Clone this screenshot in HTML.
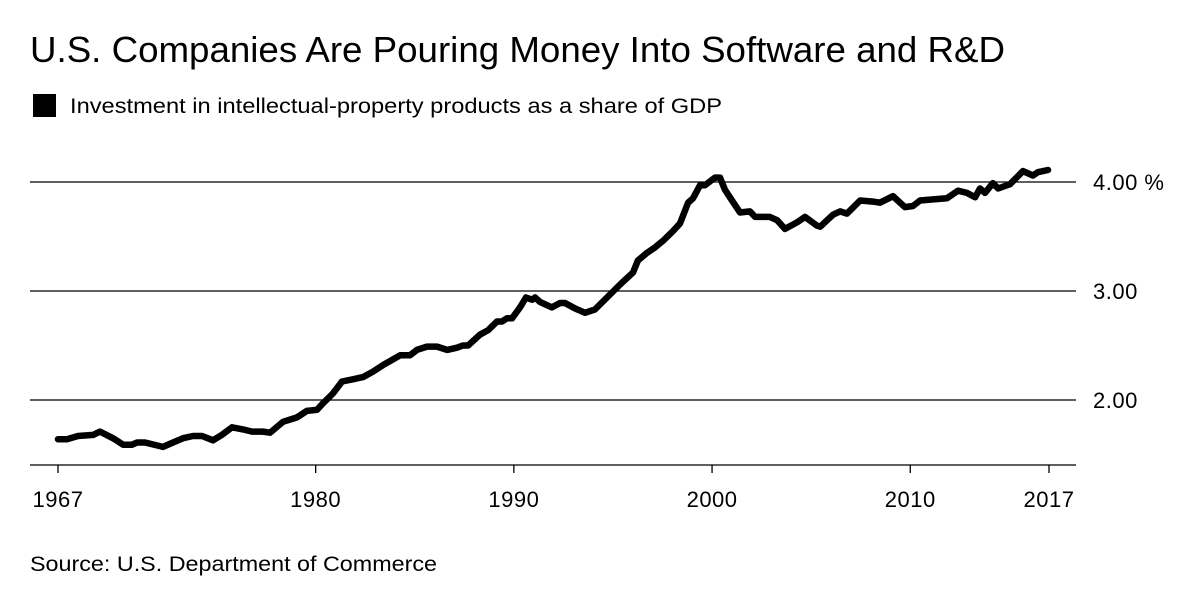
<!DOCTYPE html>
<html><head><meta charset="utf-8"><style>
body{margin:0;background:#fff;width:1200px;height:600px;overflow:hidden;font-family:"Liberation Sans",sans-serif;}
</style></head><body>
<svg width="1200" height="600" font-family="Liberation Sans, sans-serif">
<text x="30" y="62" font-size="36" textLength="975" lengthAdjust="spacingAndGlyphs" fill="#000">U.S. Companies Are Pouring Money Into Software and R&amp;D</text>
<rect x="33" y="94" width="23" height="23" fill="#000"/>
<text x="70" y="113" font-size="21" textLength="652" lengthAdjust="spacingAndGlyphs" fill="#000">Investment in intellectual-property products as a share of GDP</text>
<g id="grid"></g>
<g id="xaxis"></g>
<path id="line" fill="none" stroke="#000" stroke-width="6.5" stroke-linejoin="round" stroke-linecap="round"/>
<text x="30" y="571" font-size="21" textLength="407" lengthAdjust="spacingAndGlyphs" fill="#000">Source: U.S. Department of Commerce</text>
</svg>
<script>
const years=[1967,1967.45,1968.01,1968.77,1969.12,1969.77,1970.03,1970.28,1970.73,1970.99,1971.39,1972.3,1972.8,1973.31,1973.81,1974.27,1974.82,1975.27,1975.78,1976.33,1976.79,1977.34,1977.7,1978.35,1979.06,1979.56,1980.07,1980.37,1980.87,1981.33,1981.88,1982.39,1982.89,1983.4,1984.26,1984.76,1985.11,1985.62,1986.12,1986.63,1987.13,1987.43,1987.69,1988.29,1988.7,1989.15,1989.4,1989.65,1989.91,1990.31,1990.61,1990.92,1991.07,1991.32,1991.92,1992.33,1992.58,1993.08,1993.59,1994.09,1994.7,1995.36,1996.01,1996.26,1996.72,1997.12,1997.52,1998.03,1998.38,1998.79,1999.04,1999.39,1999.64,2000.15,2000.4,2000.65,2000.9,2001.41,2001.91,2002.17,2002.92,2003.28,2003.68,2004.29,2004.69,2005.29,2005.45,2006.1,2006.46,2006.81,2007.47,2008.12,2008.47,2009.13,2009.73,2010.14,2010.49,2011.15,2011.85,2012.41,2012.86,2013.27,2013.52,2013.77,2014.17,2014.43,2015.03,2015.69,2016.19,2016.44,2016.95];
const values=[1.64,1.64,1.67,1.68,1.71,1.65,1.62,1.59,1.59,1.61,1.61,1.57,1.61,1.65,1.67,1.67,1.63,1.68,1.75,1.73,1.71,1.71,1.7,1.8,1.84,1.9,1.91,1.97,2.06,2.17,2.19,2.21,2.26,2.32,2.41,2.41,2.46,2.49,2.49,2.46,2.48,2.5,2.5,2.6,2.64,2.72,2.72,2.75,2.75,2.85,2.94,2.92,2.94,2.9,2.85,2.89,2.89,2.84,2.8,2.83,2.94,3.06,3.17,3.28,3.35,3.4,3.46,3.55,3.62,3.81,3.85,3.97,3.97,4.04,4.04,3.93,3.86,3.72,3.73,3.68,3.68,3.65,3.57,3.63,3.68,3.6,3.59,3.7,3.73,3.71,3.83,3.82,3.81,3.87,3.77,3.78,3.83,3.84,3.85,3.92,3.9,3.86,3.94,3.9,3.99,3.94,3.98,4.1,4.06,4.09,4.11];
const yTicks=[2,3,4];
const yTickLabels=["2.00","3.00","4.00 %"];
const xTicks=[1967,1980,1990,2000,2010,2017];
const xTickLabels=["1967","1980","1990","2000","2010","2017"];
const NS="http://www.w3.org/2000/svg";
function xs(y){return 58+(y-1967)*(1049-58)/50;}
function ys(v){return 182+(4-v)*109;}
const grid=document.getElementById('grid');
yTicks.forEach((t,i)=>{
 const l=document.createElementNS(NS,'line');
 l.setAttribute('x1',30);l.setAttribute('x2',1076);l.setAttribute('y1',ys(t));l.setAttribute('y2',ys(t));
 l.setAttribute('stroke','#000');l.setAttribute('stroke-width','1.3');
 
 
 grid.appendChild(l);
 const tx=document.createElementNS(NS,'text');
 tx.setAttribute('x',1093);tx.setAttribute('y',ys(t)+8);tx.setAttribute('font-size','22');
 tx.setAttribute('letter-spacing','0.5');
 tx.textContent=yTickLabels[i];
 
 
 grid.appendChild(tx);
});
const xa=document.getElementById('xaxis');
const base=document.createElementNS(NS,'line');
base.setAttribute('x1',30);base.setAttribute('x2',1076);base.setAttribute('y1',465);base.setAttribute('y2',465);
base.setAttribute('stroke','#000');base.setAttribute('stroke-width','1.3');


xa.appendChild(base);
xTicks.forEach((t,i)=>{
 const l=document.createElementNS(NS,'line');
 l.setAttribute('x1',xs(t));l.setAttribute('x2',xs(t));l.setAttribute('y1',465);l.setAttribute('y2',473);
 l.setAttribute('stroke','#000');l.setAttribute('stroke-width','1.3');
 
 
 xa.appendChild(l);
 const tx=document.createElementNS(NS,'text');
 tx.setAttribute('x',xs(t));tx.setAttribute('y',507);tx.setAttribute('font-size','22');tx.setAttribute('text-anchor','middle');
 tx.setAttribute('letter-spacing','0.5');
 tx.textContent=xTickLabels[i];
 
 
 xa.appendChild(tx);
});
document.getElementById('line').setAttribute('d',years.map((y,i)=>(i?'L':'M')+xs(y).toFixed(1)+','+ys(values[i]).toFixed(1)).join(''));
</script>
</body></html>
